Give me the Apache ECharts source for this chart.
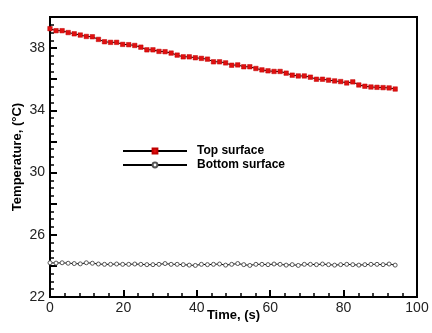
<!DOCTYPE html>
<html><head><meta charset="utf-8">
<script src="https://cdn.jsdelivr.net/npm/echarts@6/dist/echarts.min.js"></script>
<style>html,body{margin:0;padding:0;background:#fff}#c{width:432px;height:333px}</style>
</head><body><div id="c"></div>
<script>
var timeS = [0,1.65,3.3,4.95,6.6,8.25,9.9,11.55,13.2,14.85,16.5,18.15,19.8,21.45,23.1,24.75,26.4,28.05,29.7,31.35,33,34.65,36.3,37.95,39.6,41.25,42.9,44.55,46.2,47.85,49.5,51.15,52.8,54.45,56.1,57.75,59.4,61.05,62.7,64.35,66,67.65,69.3,70.95,72.6,74.25,75.9,77.55,79.2,80.85,82.5,84.15,85.8,87.45,89.1,90.75,92.4,94.05];
var topSurface = [39.25,39.12,39.12,39.0,38.92,38.84,38.75,38.73,38.56,38.41,38.37,38.37,38.24,38.22,38.17,38.06,37.89,37.89,37.79,37.77,
  37.68,37.55,37.44,37.44,37.38,37.34,37.29,37.12,37.12,37.05,36.9,36.92,36.8,36.8,36.69,36.6,36.54,36.5,36.5,
  36.39,36.26,36.21,36.21,36.13,36.0,36.0,35.94,35.89,35.85,35.76,35.83,35.63,35.55,35.5,35.48,35.46,35.44,35.37];
var bottomSurface = [24.2,24.18,24.2,24.17,24.15,24.13,24.2,24.17,24.12,24.1,24.1,24.12,24.1,24.1,24.12,24.1,24.08,24.08,24.1,24.15,
  24.1,24.1,24.08,24.05,24.03,24.1,24.08,24.1,24.12,24.05,24.1,24.15,24.08,24.03,24.1,24.1,24.08,24.12,24.1,
  24.05,24.08,24.03,24.1,24.1,24.08,24.12,24.08,24.05,24.08,24.1,24.08,24.05,24.08,24.1,24.1,24.08,24.12,24.05];
var seriesNames = ['Top surface','Bottom surface'];
var xTitle = 'Time, (s)';
var yTitle = 'Temperature, (°C)';

function pairs(xs, ys){ return xs.map(function(x,i){ return [x, ys[i]]; }); }

var chart = echarts.init(document.getElementById('c'), null, {renderer:'canvas'});
var font = 'Liberation Sans, Arial, sans-serif';
chart.setOption({
  animation:false,
  backgroundColor:'#fff',
  grid:{left:50,right:15,top:17,bottom:36,containLabel:false,outerBoundsMode:'none',
        show:true,borderColor:'#000',borderWidth:2,backgroundColor:'transparent'},
  legend:{
    orient:'vertical', left:122, top:145, padding:0, itemWidth:64, itemHeight:6, itemGap:2,
    textStyle:{fontFamily:font,fontWeight:'bold',fontSize:12,color:'#000',padding:[0,0,0,5]},
    data:seriesNames
  },
  xAxis:{
    type:'value', min:0, max:100, interval:20,
    name:xTitle, nameLocation:'middle', nameGap:12, nameMoveOverlap:false,
    nameTextStyle:{fontFamily:font,fontWeight:'bold',fontSize:13,color:'#000'},
    axisLine:{show:true,lineStyle:{color:'#000',width:2}},
    axisTick:{show:true,inside:true,length:7,lineStyle:{color:'#000',width:2}},
    minorTick:{show:true,splitNumber:5,length:4,lineStyle:{color:'#000',width:1.5}},
    splitLine:{show:false},
    axisLabel:{fontFamily:font,fontSize:14,color:'#222',margin:4}
  },
  yAxis:{
    type:'value', min:22, max:40, interval:2,
    name:yTitle, nameLocation:'middle', nameGap:26, nameMoveOverlap:false,
    nameTextStyle:{fontFamily:font,fontWeight:'bold',fontSize:13,color:'#000'},
    axisLine:{show:true,lineStyle:{color:'#000',width:2}},
    axisTick:{show:true,inside:true,length:7,lineStyle:{color:'#000',width:2}},
    minorTick:{show:true,splitNumber:4,length:4,lineStyle:{color:'#000',width:1.5}},
    splitLine:{show:false},
    axisLabel:{fontFamily:font,fontSize:14,color:'#222',margin:5,
      formatter:function(v){ return ((v-22)%4===0) ? String(v) : ''; }}
  },
  series:[
    {name:seriesNames[0], type:'line', data:pairs(timeS, topSurface),
     symbol:'rect', symbolSize:4.5,
     lineStyle:{color:'#000',width:1},
     itemStyle:{color:'#e01010',borderColor:'#c00000',borderWidth:0.5}},
    {name:seriesNames[1], type:'line', data:pairs(timeS, bottomSurface),
     symbol:'circle', symbolSize:4,
     lineStyle:{color:'#000',width:1},
     itemStyle:{color:'#fff',borderColor:'#555',borderWidth:1}}
  ]
});
</script></body></html>
